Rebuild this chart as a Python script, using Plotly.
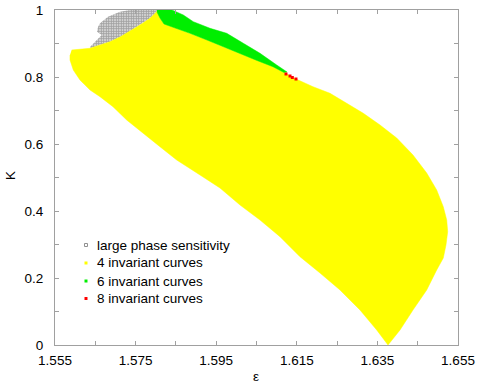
import plotly.graph_objects as go

# ---- data (epsilon, K) ----
# boundary of the "large phase sensitivity" region
gray_eps = [1.56369, 1.56418, 1.56542, 1.56659, 1.56542, 1.56567, 1.56617, 1.56815,
            1.57113, 1.57361, 1.58031, 1.58024, 1.57857, 1.57684, 1.57527, 1.57279,
            1.57113, 1.56865, 1.56617, 1.56369]
gray_K = [0.8896, 0.8955, 0.9104, 0.9254, 0.9352, 0.9493, 0.9603, 0.9800,
          0.9949, 1.0000, 1.0000, 0.9949, 0.9752, 0.9612, 0.9493, 0.9304,
          0.9194, 0.9054, 0.8955, 0.8857]

# boundary of the "4 invariant curves" region
yellow_eps = [1.55914, 1.56120, 1.56369, 1.56617, 1.56865, 1.57113, 1.57279, 1.57527,
              1.57684, 1.57857, 1.58024, 1.58056, 1.58105, 1.58205, 1.58428, 1.58850,
              1.59272, 1.59669, 1.60091, 1.60512, 1.60909, 1.61182, 1.61480, 1.61902,
              1.62324, 1.62738, 1.63150, 1.63565, 1.63979, 1.64383, 1.64723, 1.64971,
              1.65135, 1.65220, 1.65244, 1.65202, 1.65135, 1.64971, 1.64723, 1.64383,
              1.64061, 1.63763, 1.63483, 1.63068, 1.62572, 1.62076, 1.61579, 1.61083,
              1.60587, 1.60091, 1.59594, 1.59098, 1.58520, 1.58105, 1.57684, 1.57279,
              1.56939, 1.56617, 1.56369, 1.56120, 1.55954, 1.55872, 1.55872]
yellow_K = [0.8806, 0.8836, 0.8857, 0.8955, 0.9054, 0.9194, 0.9304, 0.9493,
            0.9612, 0.9752, 0.9949, 1.0000, 0.9761, 0.9582, 0.9493, 0.9304,
            0.9104, 0.8904, 0.8707, 0.8493, 0.8307, 0.8134, 0.7940, 0.7710,
            0.7513, 0.7215, 0.6916, 0.6567, 0.6179, 0.5672, 0.5134, 0.4627,
            0.4128, 0.3731, 0.3382, 0.2985, 0.2597, 0.2239, 0.1642, 0.1045,
            0.0448, 0.0000, 0.0448, 0.1045, 0.1642, 0.2149, 0.2636, 0.3233,
            0.3731, 0.4179, 0.4687, 0.5075, 0.5522, 0.5919, 0.6328, 0.6716,
            0.7113, 0.7412, 0.7612, 0.7910, 0.8209, 0.8507, 0.8657]

# boundary of the "6 invariant curves" region
green_eps = [1.58031, 1.58403, 1.58684, 1.58932, 1.59346, 1.59761, 1.60173, 1.60587,
             1.61001, 1.61257, 1.61182, 1.60909, 1.60512, 1.60091, 1.59669, 1.59272,
             1.58850, 1.58428, 1.58205, 1.58105, 1.58031]
green_K = [1.0000, 1.0000, 0.9851, 0.9651, 0.9454, 0.9304, 0.9006, 0.8707,
           0.8358, 0.8149, 0.8134, 0.8307, 0.8493, 0.8707, 0.8904, 0.9104,
           0.9304, 0.9493, 0.9582, 0.9761, 0.9940]

# "8 invariant curves" points
red_eps = [1.61232, 1.61331, 1.61389, 1.61480]
red_K = [0.8090, 0.8030, 0.7985, 0.7940]

x_ticks = [1.555, 1.565, 1.575, 1.585, 1.595, 1.605, 1.615, 1.625, 1.635, 1.645, 1.655]
x_labels = ["1.555", "", "1.575", "", "1.595", "", "1.615", "", "1.635", "", "1.655"]
y_ticks = [0, 0.1, 0.2, 0.3, 0.4, 0.5, 0.6, 0.7, 0.8, 0.9, 1.0]
y_labels = ["0", "", "0.2", "", "0.4", "", "0.6", "", "0.8", "", "1"]

legend_names = ["large phase sensitivity", "4 invariant curves",
                "6 invariant curves", "8 invariant curves"]

FONT = "Liberation Sans, Arial, sans-serif"
GRAY = "#404040"
YELLOW = "#ffff00"
GREEN = "#00ee00"
RED = "#ff0000"
AXIS = "#a0a0a0"

fig = go.Figure()
fig.add_trace(go.Scatter(
    x=gray_eps, y=gray_K, mode="lines", fill="toself", name=legend_names[0],
    line=dict(width=0, color=GRAY), fillcolor="white",
    fillpattern=dict(shape="+", fgcolor=GRAY, bgcolor="white", size=2.5, solidity=0.75),
    showlegend=False, hoverinfo="skip"))
fig.add_trace(go.Scatter(
    x=yellow_eps, y=yellow_K, mode="lines", fill="toself", name=legend_names[1],
    line=dict(width=0.5, color=YELLOW), fillcolor=YELLOW,
    showlegend=False, hoverinfo="skip"))
fig.add_trace(go.Scatter(
    x=green_eps, y=green_K, mode="lines", fill="toself", name=legend_names[2],
    line=dict(width=0.5, color=GREEN), fillcolor=GREEN,
    showlegend=False, hoverinfo="skip"))
fig.add_trace(go.Scatter(
    x=red_eps, y=red_K, mode="markers", name=legend_names[3],
    marker=dict(symbol="square", size=3, color=RED, line=dict(width=0)),
    showlegend=False, hoverinfo="skip"))

# manual legend (gnuplot style): small square + text
legend_colors = [None, YELLOW, GREEN, RED]
row_y = [0.2985, 0.2448, 0.1910, 0.1388]
mark_x = 0.0769
text_x = 0.0993
for name, col, yy in zip(legend_names, legend_colors, row_y):
    fig.add_shape(type="rect", xref="paper", yref="paper",
                  xsizemode="pixel", ysizemode="pixel",
                  xanchor=mark_x, yanchor=yy, x0=-1.5, x1=1.5, y0=-1.5, y1=1.5,
                  line=dict(width=1 if col is None else 0, color="#909090"),
                  fillcolor="rgba(0,0,0,0)" if col is None else col)
    fig.add_annotation(x=text_x, y=yy, xref="paper", yref="paper",
                       xanchor="left", yanchor="middle", showarrow=False,
                       text=name, font=dict(family=FONT, size=13.5, color="black"))

# axis titles
fig.add_annotation(x=0.4988, y=-0.0955, xref="paper", yref="paper",
                   xanchor="center", yanchor="middle", showarrow=False,
                   text="ε", font=dict(family=FONT, size=13.5, color="black"))
fig.add_annotation(x=-0.1092, y=0.5075, xref="paper", yref="paper",
                   xanchor="center", yanchor="middle", showarrow=False, textangle=-90,
                   text="K", font=dict(family=FONT, size=13.5, color="black"))

axis_common = dict(showgrid=False, zeroline=False, showline=True, linecolor=AXIS,
                   linewidth=1, mirror="allticks", ticks="inside", ticklen=4,
                   tickcolor=AXIS, tickwidth=1, automargin=False,
                   tickfont=dict(family=FONT, size=13.5, color="black"))
fig.update_xaxes(range=[1.555, 1.655], tickmode="array", tickvals=x_ticks,
                 ticktext=x_labels, ticklabelstandoff=3, **axis_common)
fig.update_yaxes(range=[0, 1], tickmode="array", tickvals=y_ticks,
                 ticktext=y_labels, ticklabelstandoff=8, **axis_common)

fig.update_layout(width=478, height=392, margin=dict(l=55, r=20, t=10, b=47, autoexpand=False),
                  plot_bgcolor="white", paper_bgcolor="white", showlegend=False)

fig.write_html("out.html", config={"displayModeBar": False},
               post_script="document.body.style.margin='0';document.body.style.overflow='hidden';")
